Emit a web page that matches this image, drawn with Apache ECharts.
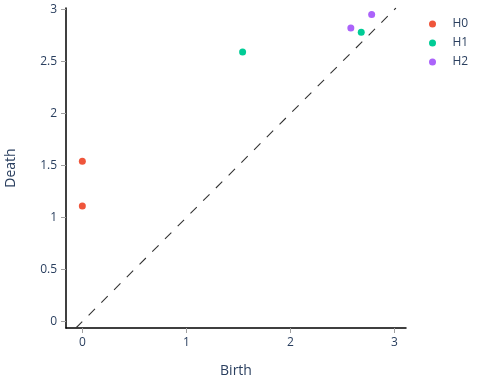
<!DOCTYPE html>
<html>
<head>
<meta charset="utf-8">
<script src="https://cdn.jsdelivr.net/npm/echarts@6/dist/echarts.min.js"></script>
<style>
  html, body { margin: 0; padding: 0; background: #fff; }
  #chart { width: 477px; height: 380px; }
</style>
</head>
<body>
<div id="chart"></div>
<script>
// persistence pairs (birth, death) per homology dimension
const h0Birth = [0, 0]
const h0Death = [1.54, 1.11]
const h1Birth = [1.54, 2.68]
const h1Death = [2.59, 2.78]
const h2Birth = [2.58, 2.78]
const h2Death = [2.82, 2.95]

// axis extents and the y = x diagonal
const xRange = [-0.157, 3.11]
const yRange = [-0.062, 3.013]
const diagonal = [-0.062, 3.013]

const xTicks = [0, 1, 2, 3]
const yTicks = [0, 0.5, 1, 1.5, 2, 2.5, 3]

const font = '"Open Sans", verdana, arial, sans-serif'
const textColor = '#2a3f5f'

const pairs = (b, d) => b.map((v, i) => [v, d[i]])

const chart = echarts.init(document.getElementById('chart'))

const axisCommon = {
  type: 'value',
  splitLine: { show: false },
  axisLine: { show: true, onZero: false, lineStyle: { color: '#000', width: 1.5 } },
  axisTick: { show: true, length: 5, lineStyle: { color: '#a0a0a0', width: 1 } },
  axisLabel: { color: textColor, fontSize: 12, fontFamily: font, margin: 9 },
  nameLocation: 'middle',
  nameTextStyle: { color: textColor, fontSize: 14, fontFamily: font }
}

chart.setOption({
  animation: false,
  textStyle: { fontFamily: font },
  grid: { left: 66, right: 71, top: 8, bottom: 52, containLabel: false, outerBoundsMode: 'none' },
  legend: {
    orient: 'vertical',
    left: 424,
    top: 12,
    itemWidth: 30,
    itemHeight: 7,
    itemGap: 5,
    icon: 'circle',
    textStyle: { color: textColor, fontSize: 12, fontFamily: font, lineHeight: 14 },
    data: ['H0', 'H1', 'H2']
  },
  xAxis: {
    ...axisCommon,
    min: xRange[0],
    max: xRange[1],
    name: 'Birth',
    nameGap: 36,
    axisTick: { ...axisCommon.axisTick, customValues: xTicks },
    axisLabel: { ...axisCommon.axisLabel, customValues: xTicks }
  },
  yAxis: {
    ...axisCommon,
    min: yRange[0],
    max: yRange[1],
    name: 'Death',
    nameGap: 48,
    axisTick: { ...axisCommon.axisTick, customValues: yTicks },
    axisLabel: { ...axisCommon.axisLabel, customValues: yTicks }
  },
  series: [
    {
      type: 'line',
      data: [[diagonal[0], diagonal[0]], [diagonal[1], diagonal[1]]],
      symbol: 'none',
      silent: true,
      lineStyle: { color: '#333', width: 1.1, type: [9, 9] },
      z: 1
    },
    {
      name: 'H0',
      type: 'scatter',
      symbolSize: 7,
      itemStyle: { color: '#EF553B', opacity: 1 },
      data: pairs(h0Birth, h0Death),
      z: 3
    },
    {
      name: 'H1',
      type: 'scatter',
      symbolSize: 7,
      itemStyle: { color: '#00CC96', opacity: 1 },
      data: pairs(h1Birth, h1Death),
      z: 3
    },
    {
      name: 'H2',
      type: 'scatter',
      symbolSize: 7,
      itemStyle: { color: '#AB63FA', opacity: 1 },
      data: pairs(h2Birth, h2Death),
      z: 3
    }
  ]
})
</script>
</body>
</html>
